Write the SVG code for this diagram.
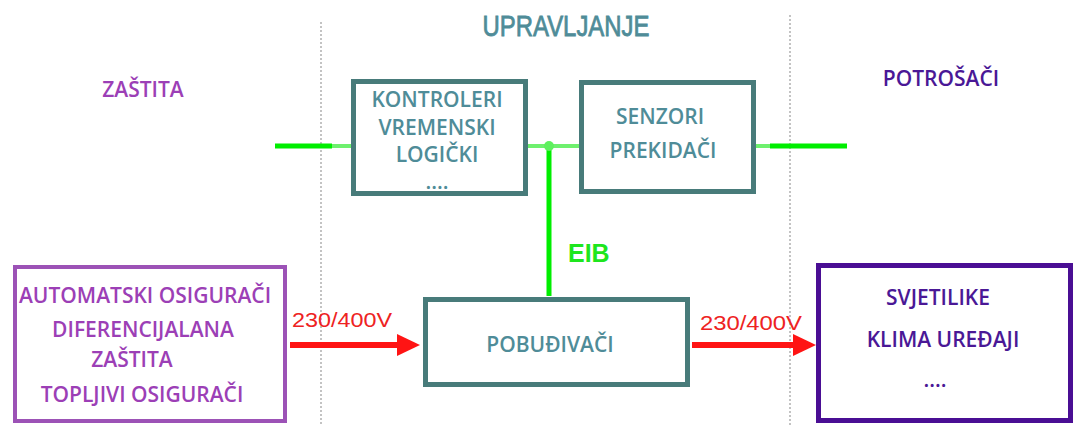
<svg xmlns="http://www.w3.org/2000/svg" width="1076" height="425" viewBox="0 0 1076 425">
<style>
.t{font-family:"Open Sans","Noto Sans",sans-serif;font-weight:600;font-size:21px;text-anchor:middle}
.teal{fill:#4f8c98}
.pur{fill:#9c3fb6}
.ind{fill:#4a1896}
.boxT{fill:#fff;stroke:#487b7a;stroke-width:5}
.div{stroke:#b0b0b0;stroke-width:1.5;stroke-dasharray:2 2}
.g{stroke:#00ee00;stroke-width:5;fill:none}
.gl{stroke:#6ef06e;stroke-width:4;fill:none}
.r{stroke:#ff1414;stroke-width:6}
.rh{fill:#ff1414}
.v{font-family:"Liberation Sans",Arial,sans-serif;font-size:20px;fill:#ee2222}
</style>
<rect width="1076" height="425" fill="#fff"/>
<g id="dividers">
<line class="div" x1="321" y1="22" x2="321" y2="425"/>
<line class="div" x1="790" y1="15" x2="790" y2="425"/>
</g>
<g id="headings">
<text x="566" y="36" font-family="Liberation Sans, Arial, sans-serif" font-size="29" fill="#4f8c98" stroke="#4f8c98" stroke-width="0.8" text-anchor="middle" textLength="167" lengthAdjust="spacingAndGlyphs">UPRAVLJANJE</text>
<text class="t pur" x="143" y="97" font-size="25">ZAŠTITA</text>
<text class="t ind" x="941" y="86" font-size="25">POTROŠAČI</text>
</g>
<g id="connectors">
<line class="g" x1="275" y1="146" x2="332" y2="146"/>
<line class="gl" x1="332" y1="146" x2="351" y2="146"/>
<line class="gl" x1="528" y1="146" x2="579" y2="146"/>
<line class="g" x1="549" y1="146" x2="549" y2="296"/>
<circle cx="549" cy="146" r="5" fill="#5ef05e"/>
<line class="gl" x1="756" y1="146" x2="772" y2="146"/>
<line class="g" x1="770" y1="146" x2="847" y2="146"/>
<text x="568" y="262" font-family="Liberation Sans, Arial, sans-serif" font-weight="bold" font-size="25" fill="#1ee61e">EIB</text>
<line class="r" x1="290" y1="345" x2="400" y2="345"/>
<polygon class="rh" points="397,334 420,345 397,356"/>
<text class="v" x="292" y="327" textLength="100" lengthAdjust="spacingAndGlyphs">230/400V</text>
<line class="r" x1="692" y1="345" x2="796" y2="345"/>
<polygon class="rh" points="793,334 816,345 793,356"/>
<text class="v" x="700" y="330" textLength="102" lengthAdjust="spacingAndGlyphs">230/400V</text>
</g>
<g id="kontroleri">
<rect class="boxT" x="353.5" y="81.5" width="172" height="112"/>
<text class="t teal" x="437" y="107">KONTROLERI</text>
<text class="t teal" x="437" y="135">VREMENSKI</text>
<text class="t teal" x="437" y="162">LOGIČKI</text>
<text class="t teal" x="437" y="189" font-size="11">....</text>
</g>
<g id="senzori">
<rect class="boxT" x="581.5" y="82.5" width="172" height="109"/>
<text class="t teal" x="660" y="124">SENZORI</text>
<text class="t teal" x="663" y="158">PREKIDAČI</text>
</g>
<g id="pobudivaci">
<rect class="boxT" x="425.5" y="299.5" width="262" height="85"/>
<text class="t teal" x="550" y="352">POBUĐIVAČI</text>
</g>
<g id="zastita">
<rect x="15" y="267" width="270" height="154" fill="#fff" stroke="#9c52b6" stroke-width="4"/>
<text class="t pur" x="145" y="303">AUTOMATSKI OSIGURAČI</text>
<text class="t pur" x="143" y="337">DIFERENCIJALANA</text>
<text class="t pur" x="132" y="367">ZAŠTITA</text>
<text class="t pur" x="142" y="402">TOPLJIVI OSIGURAČI</text>
</g>
<g id="potrosaci">
<rect x="818.5" y="265.5" width="252" height="155" fill="#fff" stroke="#4a0e94" stroke-width="5"/>
<text class="t ind" x="938" y="305">SVJETILIKE</text>
<text class="t ind" x="943" y="347">KLIMA UREĐAJI</text>
<text class="t ind" x="935" y="387" font-size="11">....</text>
</g>
</svg>
